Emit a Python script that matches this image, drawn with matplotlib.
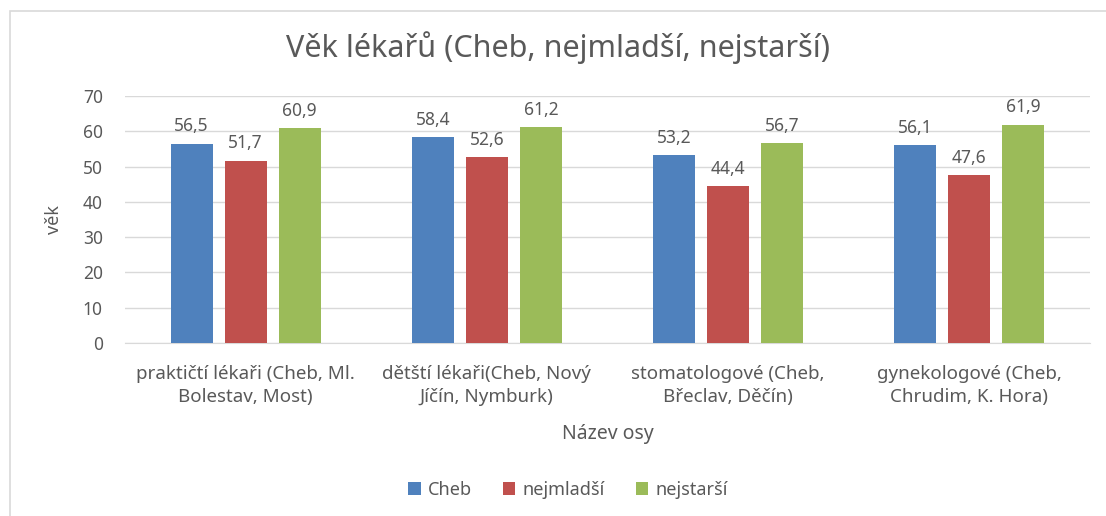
import matplotlib
matplotlib.use("Agg")
import matplotlib.pyplot as plt
from matplotlib.patches import Rectangle
import numpy as np

categories = ["praktičtí lékaři (Cheb, Ml.\nBolestav, Most)",
              "dětští lékaři(Cheb, Nový\nJíčín, Nymburk)",
              "stomatologové (Cheb,\nBřeclav, Děčín)",
              "gynekologové (Cheb,\nChrudim, K. Hora)"]
series_names = ["Cheb", "nejmladší", "nejstarší"]
cheb = [56.5, 58.4, 53.2, 56.1]
nejmladsi = [51.7, 52.6, 44.4, 47.6]
nejstarsi = [60.9, 61.2, 56.7, 61.9]
yticks = [0, 10, 20, 30, 40, 50, 60, 70]

colors = ["#4F81BD", "#C0504D", "#9BBB59"]
txt = "#595959"
plt.rcParams['font.family'] = ['Noto Sans', 'DejaVu Sans']

W, H = 1106, 516
fig = plt.figure(figsize=(W/100, H/100), dpi=100)
fig.patches.append(Rectangle((10/W, -0.1), 1.2, 1.1 - 11/H, transform=fig.transFigure,
                             fill=False, edgecolor="#D9D9D9", linewidth=1.2))
ax = fig.add_axes([125/W, 1 - 343/H, (1090-125)/W, (343-96)/H])

x = np.arange(len(categories))
bw = 42/241
step = 54/241
for i, (vals, c) in enumerate(zip([cheb, nejmladsi, nejstarsi], colors)):
    pos = x + (i - 1) * step
    ax.bar(pos, vals, width=bw, color=c, label=series_names[i], zorder=3)
    for p, v in zip(pos, vals):
        ax.annotate(f"{v:.1f}".replace(".", ","), (p, v), xytext=(0, 6), textcoords="offset points",
                    ha="center", va="bottom", fontsize=12.5, color=txt)

ax.set_xlim(-0.5, len(categories) - 0.5)
ax.set_ylim(0, 70)
ax.set_yticks(yticks)
ax.yaxis.grid(True, color="#D9D9D9", linewidth=1, zorder=0)
ax.set_axisbelow(True)
for s in ["top", "right", "left"]:
    ax.spines[s].set_visible(False)
ax.spines["bottom"].set_color("#D9D9D9")
ax.tick_params(axis="y", length=0, colors=txt, labelsize=12.5, pad=16)
ax.set_xticks(x)
ax.set_xticklabels(categories, linespacing=1.35)
ax.tick_params(axis="x", length=0, colors=txt, labelsize=13.5, pad=16)
ax.set_ylabel("věk", fontsize=13, color=txt, labelpad=14)
ax.set_xlabel("Název osy", fontsize=14, color=txt, labelpad=13)

fig.text(558/W, 1 - 48/H, "Věk lékařů (Cheb, nejmladší, nejstarší)", ha="center", va="center",
         fontsize=22, color=txt)
leg = fig.legend(loc="center", bbox_to_anchor=(568/W, 1 - 490/H), ncol=3, frameon=False,
                 fontsize=13, handlelength=0.7, handleheight=0.7, columnspacing=1.7, handletextpad=0.4)
for t in leg.get_texts():
    t.set_color(txt)

fig.savefig("out.png", dpi=100)
